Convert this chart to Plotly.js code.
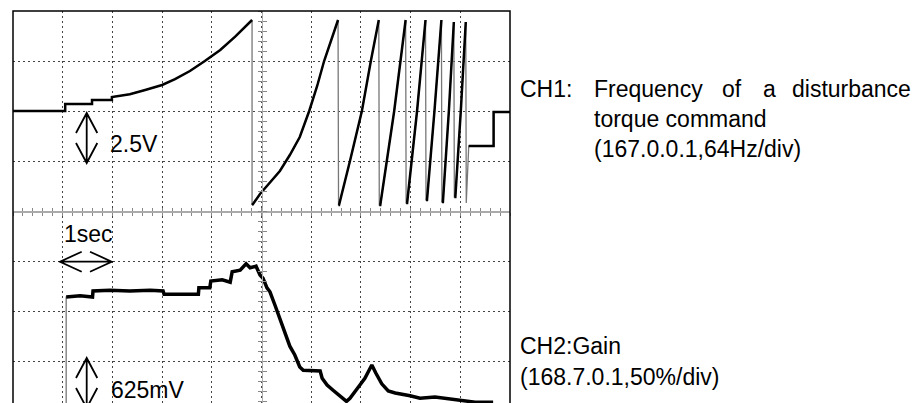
<!DOCTYPE html>
<html><head><meta charset="utf-8">
<script src="https://cdn.plot.ly/plotly-3.0.1.min.js"></script>
<style>html,body{margin:0;padding:0;background:#fff;overflow:hidden}</style>
</head><body><div id="chart" style="width:919px;height:403px"></div>
<script>
// ---- data (time in s, 1 s/div; CH1 2.5 V/div; CH2 0.625 V/div; 0 V = screen centre)
const ch1Time = [0, 1.05, 1.05, 1.59, 1.59, 1.99, 1.99, 2.35, 2.66, 3.0, 3.26, 3.56, 3.86, 4.17, 4.47, 4.77, 4.81,
  4.81, 4.83, 4.97, 5.17, 5.37, 5.57, 5.77, 5.96, 6.12, 6.26, 6.41, 6.54,
  6.55, 6.56, 6.78, 7.02, 7.20, 7.36,
  7.37, 7.39, 7.67, 7.90,
  7.91, 7.93, 8.13, 8.30,
  8.31, 8.33, 8.48, 8.62,
  8.63, 8.65, 8.77, 8.87,
  8.88, 8.90, 9.01, 9.11,
  9.12, 9.17, 9.67, 9.67, 10.0];
const ch1Volt = [5.0, 5.0, 5.35, 5.35, 5.55, 5.55, 5.7, 5.84, 6.05, 6.3, 6.59, 7.0, 7.5, 8.05, 8.72, 9.5, 9.55,
  0.3, 0.35, 0.85, 1.45, 2.0, 2.8, 3.7, 5.0, 6.25, 7.5, 8.55, 9.55,
  0.3, 0.3, 2.5, 5.0, 7.5, 9.55,
  0.3, 0.3, 5.0, 9.55,
  0.4, 0.4, 5.0, 9.55,
  0.55, 0.55, 5.0, 9.55,
  0.45, 0.45, 5.0, 9.45,
  0.7, 0.7, 5.0, 9.45,
  0.4, 3.25, 3.25, 4.95, 4.95];
const ch2Time = [0, 1.07, 1.07, 1.35, 1.60, 1.61, 1.95, 2.35, 2.76, 3.02, 3.04, 3.36, 3.73, 3.74, 3.96, 3.98, 4.21, 4.37,
  4.41, 4.57, 4.69, 4.77, 4.89, 4.97, 5.03, 5.11, 5.17, 5.27, 5.37, 5.47, 5.57, 5.67, 5.77, 5.84, 6.18, 6.22,
  6.32, 6.44, 6.58, 6.71, 6.78, 6.88, 6.98, 7.08, 7.22, 7.30, 7.42, 7.55, 7.69, 7.99, 8.19, 8.49, 8.79, 9.09, 9.30, 9.66];
const ch2Volt = [-2.74, -2.74, -1.075, -1.06, -1.075, -1.0, -0.99, -1.0, -0.99, -1.0, -1.04, -1.04, -1.04, -0.96, -0.96, -0.875, -0.86, -0.89,
  -0.76, -0.74, -0.66, -0.71, -0.69, -0.80, -0.84, -0.96, -1.01, -1.175, -1.34, -1.525, -1.69, -1.8, -1.95, -1.99, -2.0, -2.09,
  -2.175, -2.24, -2.31, -2.38, -2.34, -2.25, -2.175, -2.09, -1.925, -2.025, -2.16, -2.25, -2.275, -2.31, -2.34, -2.325, -2.35, -2.375, -2.39, -2.39];

const ch1Label = ['CH1:', 'Frequency', 'of', 'a', 'disturbance'];
const ch1Sub = ['torque command', '(167.0.0.1,64Hz/div)'];
const ch2Label = ['CH2:Gain', '(168.7.0.1,50%/div)'];
const scaleLabels = ['2.5V', '1sec', '625mV'];

// ---- layout geometry (pixels)
const W = 919, H = 403, L = 13, R = 510, T = 11, B = 403;
const px = p => (p - L) / (R - L);
const py = p => (B - p) / (B - T);
const FONT = {family: 'Liberation Sans, Arial, sans-serif', size: 23, color: '#000'};
const y1Range = [-9.6, 10];
const y2Range = [-2.4, 2.5];
const centreFrac = (0 - y1Range[0]) / (y1Range[1] - y1Range[0]);

// fast edges are drawn faint on the scope: break the dark trace there so only the faint copy shows
function breakFastEdges(t, v, dvMin, dtMax) {
  const x = [], y = [];
  for (let i = 0; i < t.length; i++) {
    if (i > 0 && Math.abs(v[i] - v[i - 1]) > dvMin && (t[i] - t[i - 1]) < dtMax) { x.push(null); y.push(null); }
    x.push(t[i]); y.push(v[i]);
  }
  return {x, y};
}
const ch1Dark = breakFastEdges(ch1Time, ch1Volt, 2.5, 0.06);
const ch2Dark = breakFastEdges(ch2Time, ch2Volt, 0.5, 0.06);

function ann(text, x, y) {
  return {text: text, x: px(x), y: py(y), xref: 'paper', yref: 'paper', xanchor: 'left', yanchor: 'middle',
    showarrow: false, font: FONT, borderpad: 0, borderwidth: 0, align: 'left'};
}
function path(pts) {
  return pts.map(line => line.map((p, i) => (i ? 'L' : 'M') + px(p[0]).toFixed(5) + ',' + py(p[1]).toFixed(5)).join(' ')).join(' ');
}
const arrowLine = {color: '#000', width: 1.8};

const traces = [
  {x: ch2Time, y: ch2Volt, xaxis: 'x', yaxis: 'y2', mode: 'lines', line: {color: '#777', width: 1.3}, hoverinfo: 'skip'},
  {x: ch2Dark.x, y: ch2Dark.y, xaxis: 'x', yaxis: 'y2', mode: 'lines', connectgaps: false, line: {color: '#000', width: 3.5}, hoverinfo: 'skip'},
  {x: ch1Time, y: ch1Volt, xaxis: 'x', yaxis: 'y', mode: 'lines', line: {color: '#777', width: 1.3}, hoverinfo: 'skip'},
  {x: ch1Dark.x, y: ch1Dark.y, xaxis: 'x', yaxis: 'y', mode: 'lines', connectgaps: false, line: {color: '#000', width: 2.5}, hoverinfo: 'skip'},
  {x: [], y: [], xaxis: 'x2', yaxis: 'y'},
  {x: [], y: [], xaxis: 'x3', yaxis: 'y'},
  {x: [], y: [], xaxis: 'x', yaxis: 'y3'},
  {x: [], y: [], xaxis: 'x', yaxis: 'y4'}
];

const centreAxis = {showgrid: false, zeroline: false, showline: true, linecolor: '#aaa', linewidth: 1.5,
  ticklen: 3.5, tickcolor: '#888', tickwidth: 1, showticklabels: false, anchor: 'free', fixedrange: true};

const layout = {
  width: W, height: H, showlegend: false,
  margin: {l: L, r: W - R, t: T, b: H - B, pad: 0},
  paper_bgcolor: '#fff', plot_bgcolor: '#fff',
  xaxis: {range: [0, 10], dtick: 1, tick0: 0, showgrid: true, griddash: '1.5px,3.5px', gridcolor: '#444', gridwidth: 1,
    zeroline: false, showticklabels: false, ticks: '', showline: false, fixedrange: true},
  yaxis: {range: y1Range, dtick: 2.5, tick0: 0, showgrid: true, griddash: '1.5px,3.5px', gridcolor: '#444', gridwidth: 1,
    zeroline: false, showticklabels: false, ticks: '', showline: false, fixedrange: true},
  yaxis2: {range: y2Range, overlaying: 'y', visible: false, fixedrange: true},
  xaxis2: Object.assign({}, centreAxis, {overlaying: 'x', range: [0, 10], dtick: 0.2, tick0: 0, ticks: 'outside', side: 'bottom', position: centreFrac}),
  xaxis3: Object.assign({}, centreAxis, {overlaying: 'x', range: [0, 10], dtick: 0.2, tick0: 0, ticks: 'inside', side: 'bottom', position: centreFrac}),
  yaxis3: Object.assign({}, centreAxis, {overlaying: 'y', range: y1Range, dtick: 0.5, tick0: 0, ticks: 'outside', side: 'left', position: 0.5}),
  yaxis4: Object.assign({}, centreAxis, {overlaying: 'y', range: y1Range, dtick: 0.5, tick0: 0, ticks: 'inside', side: 'left', position: 0.5}),
  shapes: [
    {type: 'rect', xref: 'paper', yref: 'paper', x0: 0, x1: 1, y0: -0.2, y1: 1, line: {color: '#000', width: 1.5}, layer: 'above'},
    {type: 'path', xref: 'paper', yref: 'paper', line: arrowLine,
      path: path([[[76, 133], [86.7, 113], [97.3, 133]], [[86.7, 113], [86.7, 163]], [[76, 143], [86.7, 163], [97.3, 143]]])},
    {type: 'path', xref: 'paper', yref: 'paper', line: arrowLine,
      path: path([[[81.7, 251.7], [60, 261.7], [81.7, 271.7]], [[60, 261.7], [111.7, 261.7]], [[90, 251.7], [111.7, 261.7], [90, 271.7]]])},
    {type: 'path', xref: 'paper', yref: 'paper', line: arrowLine,
      path: path([[[76, 378], [86.7, 358], [97.3, 378]], [[86.7, 358], [86.7, 408]], [[76, 388], [86.7, 408], [97.3, 388]]])}
  ],
  annotations: [
    ann(scaleLabels[0], 110, 144),
    ann(scaleLabels[1], 64, 234),
    ann(scaleLabels[2], 111, 390),
    ann(ch1Label[0], 520, 89),
    ann(ch1Label[1], 594, 89),
    ann(ch1Label[2], 722, 89),
    ann(ch1Label[3], 763, 89),
    ann(ch1Label[4], 792, 89),
    ann(ch1Sub[0], 594, 119),
    ann(ch1Sub[1], 594, 149),
    ann(ch2Label[0], 520, 346),
    ann(ch2Label[1], 520, 377)
  ]
};

Plotly.newPlot('chart', traces, layout, {staticPlot: true, displayModeBar: false});
</script></body></html>
